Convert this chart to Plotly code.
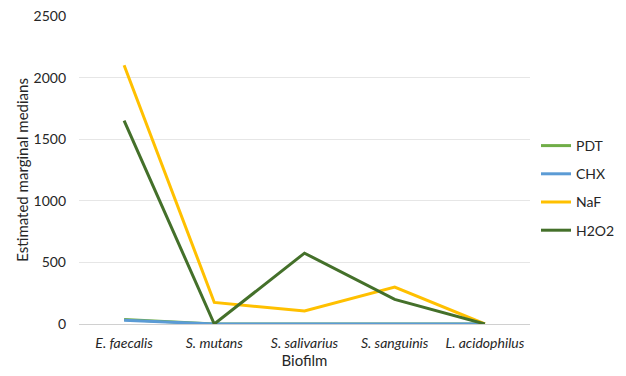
import plotly.graph_objects as go

biofilms = ["E. faecalis", "S. mutans", "S. salivarius", "S. sanguinis", "L. acidophilus"]
tick_labels = ["<i>E. faecalis</i>", "<i>S. mutans</i>", "<i>S. salivarius</i>",
               "<i>S. sanguinis</i>", "<i>L. acidophilus</i>"]
pdt = [36, 1, 1, 1, 1]
chx = [30, 0, 0, 0, 0]
naf = [2100, 175, 105, 300, 0]
h2o2 = [1650, 0, 575, 200, 0]

series = [
    ("PDT", pdt, "#70AD47"),
    ("CHX", chx, "#5B9BD5"),
    ("NaF", naf, "#FFC000"),
    ("H2O2", h2o2, "#44702A"),
]

fig = go.Figure()
for i, (name, vals, color) in enumerate(series):
    fig.add_trace(go.Scatter(
        x=biofilms, y=vals, name=name, mode="lines",
        line=dict(color=color, width=3),
        legendgroup=f"g{i}",
    ))

font = "Lato, 'Open Sans', sans-serif"
txt = "#262626"
fig.update_layout(
    width=626, height=376,
    margin=dict(l=79, r=96, t=16, b=52, autoexpand=False),
    paper_bgcolor="white", plot_bgcolor="white",
    font=dict(family=font, size=14, color=txt),
    showlegend=True,
    legend=dict(xref="container", x=536 / 626, xanchor="left",
                yref="container", y=1 - 130 / 376, yanchor="top",
                tracegroupgap=7, font=dict(size=14, color=txt),
                itemwidth=30),
    xaxis=dict(
        tickmode="array", tickvals=biofilms, ticktext=tick_labels,
        range=[-0.5, 4.5], showgrid=False, zeroline=False,
        showline=False, ticks="", tickfont=dict(size=14, color=txt),
        ticklabelstandoff=9,
        title=dict(text="Biofilm", font=dict(size=15, color=txt), standoff=4),
    ),
    yaxis=dict(
        range=[0, 2500], tickvals=[0, 500, 1000, 1500, 2000, 2500],
        showgrid=True, gridcolor="#E6E6E6", gridwidth=1,
        zeroline=True, zerolinecolor="#D0D0D0", zerolinewidth=1,
        showline=False, ticks="", tickfont=dict(size=14, color=txt),
        ticklabelstandoff=12,
        title=dict(text="Estimated marginal medians",
                   font=dict(size=15, color=txt), standoff=1),
    ),
)

fig.write_html("out.html")
